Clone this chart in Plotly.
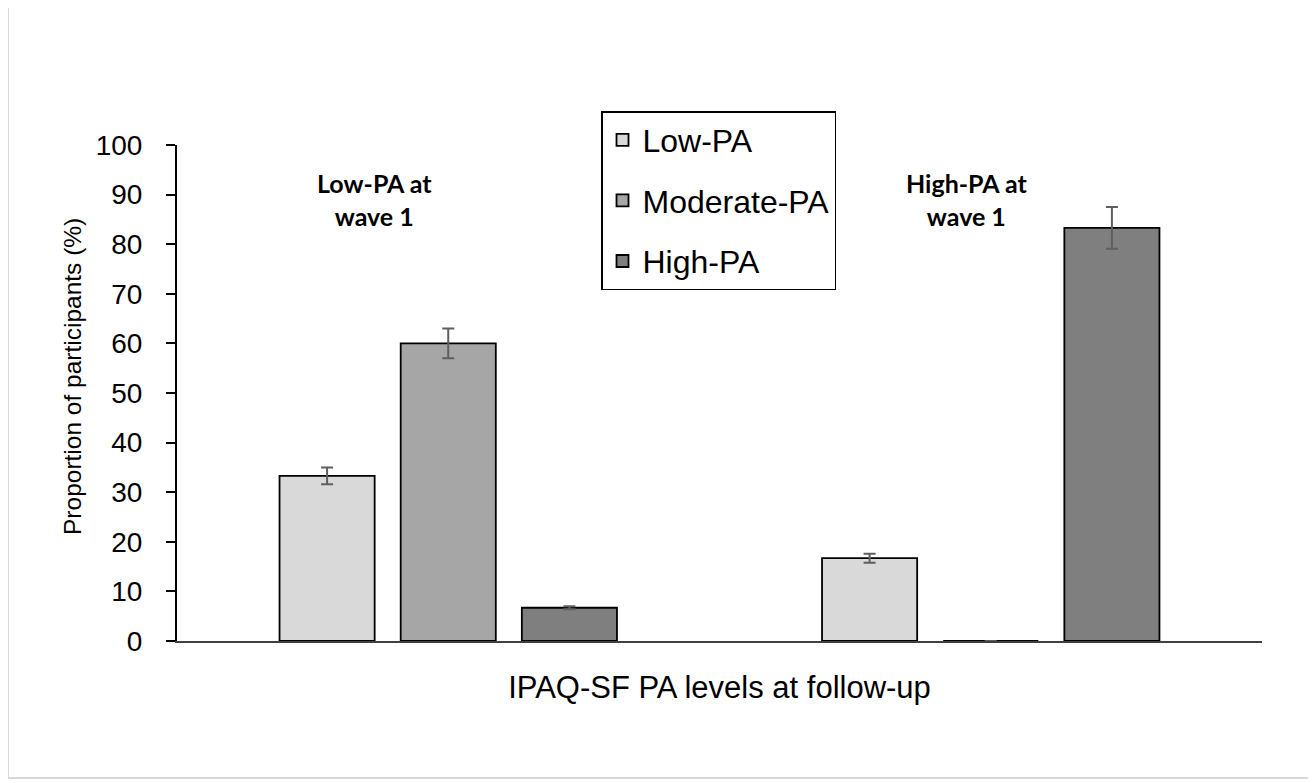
import plotly.graph_objects as go

categories = ["Low-PA at wave 1", "High-PA at wave 1"]
series_names = ["Low-PA", "Moderate-PA", "High-PA"]
low_pa = [33.3, 16.7]
moderate_pa = [60.0, 0.0]
high_pa = [6.7, 83.3]
low_err = [1.7, 0.9]
moderate_err = [3.0, 0.0]
high_err = [0.3, 4.2]
group_labels = ["Low-PA at<br>wave 1", "High-PA at<br>wave 1"]
y_ticks = [0, 10, 20, 30, 40, 50, 60, 70, 80, 90, 100]
y_title = "Proportion of participants (%)"
x_title = "IPAQ-SF PA levels at follow-up"

colors = ["#d9d9d9", "#a6a6a6", "#7f7f7f"]
values = [low_pa, moderate_pa, high_pa]
errors = [low_err, moderate_err, high_err]

fig = go.Figure()
for i, (name, vals, errs) in enumerate(zip(series_names, values, errors)):
    fig.add_trace(go.Bar(
        x=categories, y=vals, name=name,
        legendgroup=name,
        marker=dict(color=colors[i], line=dict(color="#000000", width=1.8)),
        error_y=dict(type="data", array=errs, visible=True,
                     color="#5f5f5f", thickness=2, width=6),
    ))

OFF = 8  # page body margin
W, H = 1316, 783
L, T = 177 - OFF, 145 - OFF
pw, ph = 1262 - 177, 641 - 145
R, B = W - L - pw, H - T - ph

def px_x(x):
    return (x - OFF - L) / pw

def px_y(y):
    return (T + ph - (y - OFF)) / ph

for lab, xc in zip(group_labels, [374, 966]):
    fig.add_annotation(text="<b>" + lab + "</b>", xref="paper", yref="paper",
                       x=px_x(xc), y=px_y(200), xanchor="center", yanchor="middle",
                       showarrow=False, align="center",
                       font=dict(family="Lato, Open Sans, sans-serif", size=25, color="#000000"))

fig.add_annotation(text=y_title, xref="paper", yref="paper",
                   x=px_x(72), y=px_y(377), xanchor="center", yanchor="middle",
                   textangle=-90, showarrow=False,
                   font=dict(family="Liberation Sans, Arial, sans-serif", size=24.5, color="#000000"))

fig.add_shape(type="rect", xref="paper", yref="paper",
              x0=px_x(8), x1=px_x(1312), y0=px_y(6), y1=px_y(778),
              line=dict(color="#d9d9d9", width=2), fillcolor="rgba(0,0,0,0)", layer="below")

fig.update_layout(
    width=W, height=H,
    margin=dict(l=L, r=R, t=T, b=B),
    paper_bgcolor="white", plot_bgcolor="white",
    barmode="group", bargap=0.33, bargroupgap=0.215,
    font=dict(family="Liberation Sans, Arial, sans-serif", color="#000000"),
    showlegend=True,
    legend=dict(x=px_x(601), y=px_y(111), xanchor="left", yanchor="top",
                bordercolor="#000000", borderwidth=1.5, bgcolor="white",
                font=dict(size=32, family="Liberation Sans, Arial, sans-serif"),
                tracegroupgap=16, traceorder="grouped"),
    xaxis=dict(showticklabels=False, ticks="", showline=True, linecolor="#404040",
               linewidth=2, showgrid=False, zeroline=False,
               title=dict(text=x_title, standoff=34, font=dict(size=31))),
    yaxis=dict(range=[0, 100], tickvals=y_ticks, ticks="outside", ticklen=9,
               tickwidth=2, tickcolor="#000000", showline=True, linecolor="#000000",
               linewidth=2, showgrid=False, zeroline=False,
               tickfont=dict(size=28), ticklabelstandoff=18),
)

fig.write_html("out.html")
